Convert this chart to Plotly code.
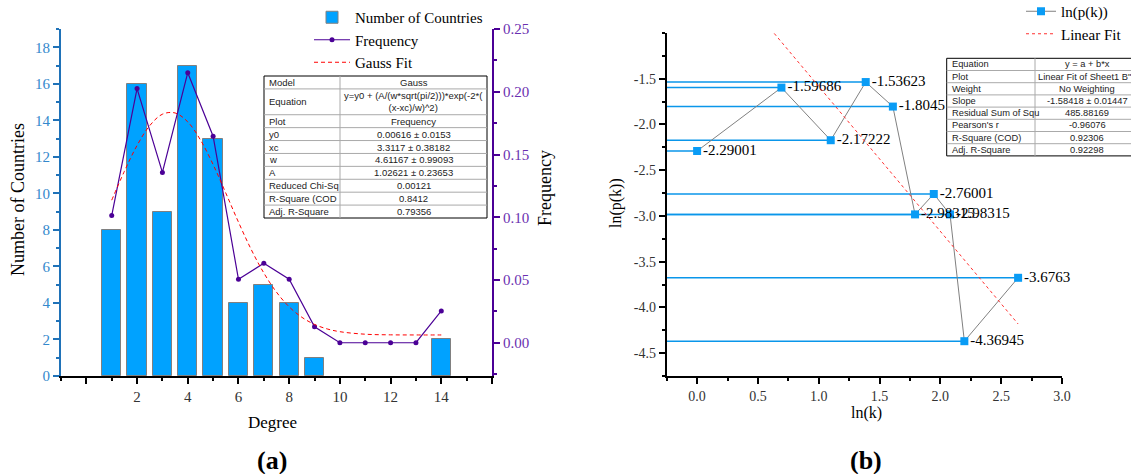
import plotly.graph_objects as go

W, H = 1131, 474
def px(x): return x / W
def py(y): return 1 - y / H

# ---------------- data (a) ----------------
degree = [1, 2, 3, 4, 5, 6, 7, 8, 9, 14]
num_countries = [8, 16, 9, 17, 13, 4, 5, 4, 1, 2]
freq_x = [1, 2, 3, 4, 5, 6, 7, 8, 9, 10, 11, 12, 13, 14]
freq_y = [0.1013, 0.2025, 0.1357, 0.2152, 0.1646, 0.0506, 0.0633, 0.0506, 0.0127,
          0.0, 0.0, 0.0, 0.0, 0.0253]
gauss_x = [1, 1.5, 2, 2.5, 3, 3.5, 4, 4.5, 5, 5.5, 6, 6.5, 7, 7.5, 8, 8.5, 9, 9.5,
           10, 11, 12, 13, 14]
gauss_y = [0.1136, 0.1366, 0.1572, 0.1730, 0.1821, 0.1831, 0.1760, 0.1616, 0.1420,
           0.1193, 0.0961, 0.0744, 0.0556, 0.0403, 0.0286, 0.0203, 0.0146, 0.0110,
           0.0088, 0.0068, 0.0063, 0.0062, 0.0062]
left_x_ticks = [0, 2, 4, 6, 8, 10, 12, 14, 16]
left_x_ticktext = ["", "2", "4", "6", "8", "10", "12", "14", ""]
left_y_ticks = [0, 2, 4, 6, 8, 10, 12, 14, 16, 18]
freq_ticks = [0.0, 0.05, 0.10, 0.15, 0.20, 0.25]

tbl_a_labels = ["Model", "Equation", "Plot", "y0", "xc", "w", "A",
                "Reduced Chi-Sq", "R-Square (COD", "Adj. R-Square"]
tbl_a_values = ["Gauss", "y=y0 + (A/(w*sqrt(pi/2)))*exp(-2*(<br>(x-xc)/w)^2)",
                "Frequency", "0.00616 ± 0.0153", "3.3117 ± 0.38182",
                "4.61167 ± 0.99093", "1.02621 ± 0.23653", "0.00121", "0.8412",
                "0.79356"]
tbl_a_rowunits = [1, 2, 1, 1, 1, 1, 1, 1, 1, 1]

# ---------------- data (b) ----------------
ln_k = [0.0, 0.69315, 1.09861, 1.38629, 1.60944, 1.79176, 1.94591, 2.07944,
        2.19722, 2.63906]
ln_pk = [-2.29001, -1.59686, -2.17222, -1.53623, -1.8045, -2.98315, -2.76001,
         -2.98315, -4.36945, -3.6763]
fit_x = [0.0, 2.639]
fit_y = [0.0, -4.181]
right_x_ticks = [0.0, 0.5, 1.0, 1.5, 2.0, 2.5, 3.0]
right_y_ticks = [-1.5, -2.0, -2.5, -3.0, -3.5, -4.0, -4.5]

tbl_b_labels = ["Equation", "Plot", "Weight", "Slope", "Residual Sum of Squ",
                "Pearson's r", "R-Square (COD)", "Adj. R-Square"]
tbl_b_values = ["y = a + b*x", 'Linear Fit of Sheet1 B"ln(p(k))"', "No Weighting",
                "-1.58418 ± 0.01447", "485.88169", "-0.96076", "0.92306", "0.92298"]

SERIF = "Liberation Serif"
SANS = "Liberation Sans"
BLUE_AX = "#1f72b8"
PURPLE = "#4b0096"
BAR = "#00a2ff"

fig = go.Figure()

fig.add_trace(go.Bar(x=degree, y=num_countries, width=0.76, name="Number of Countries",
                     marker=dict(color=BAR, line=dict(color="#808080", width=1)),
                     xaxis="x", yaxis="y", legend="legend"))
fig.add_trace(go.Scatter(x=freq_x, y=freq_y, mode="lines+markers", name="Frequency",
                         line=dict(color=PURPLE, width=1.2),
                         marker=dict(color=PURPLE, size=5),
                         xaxis="x", yaxis="y2", legend="legend"))
fig.add_trace(go.Scatter(x=gauss_x, y=gauss_y, mode="lines", name="Gauss Fit",
                         line=dict(color="#ff0000", width=1, dash="4px,3px",
                                   shape="spline"),
                         xaxis="x", yaxis="y2", legend="legend"))

x2min = -0.25
fig.add_trace(go.Scatter(x=ln_k, y=ln_pk, mode="lines+markers+text", name="ln(p(k))",
                         text=[str(v) for v in ln_pk], textposition="middle right",
                         textfont=dict(family=SERIF, size=15, color="black"),
                         line=dict(color="#808080", width=1),
                         marker=dict(symbol="square", size=8, color="#0a9cf5"),
                         error_x=dict(type="data", symmetric=False,
                                      array=[0] * len(ln_k),
                                      arrayminus=[v - x2min for v in ln_k],
                                      color="#0a96ea", thickness=1.5, width=0),
                         cliponaxis=False,
                         xaxis="x2", yaxis="y3", legend="legend2"))
fig.add_trace(go.Scatter(x=fit_x, y=fit_y, mode="lines", name="Linear Fit",
                         line=dict(color="#ff3030", width=1, dash="dot"),
                         xaxis="x2", yaxis="y3", legend="legend2"))

axis_common = dict(showgrid=False, zeroline=False, showline=True, linewidth=2,
                   ticks="outside", ticklen=6, tickwidth=2, automargin=False)

fig.update_layout(
    width=W, height=H, margin=dict(l=0, r=0, t=0, b=0, autoexpand=False),
    paper_bgcolor="white", plot_bgcolor="white",
    font=dict(family=SERIF, size=15, color="black"),
    xaxis=dict(domain=[px(61), px(492)], range=[-1, 16], anchor="y",
               tickvals=left_x_ticks, ticktext=left_x_ticktext,
               linecolor="black", tickcolor="black",
               tickfont=dict(family=SERIF, size=15, color="#333"),
               minor=dict(ticks="outside", ticklen=3, tickwidth=1.5, dtick=1, tick0=0,
                          tickcolor="black"),
               **axis_common),
    yaxis=dict(domain=[py(376), py(29)], range=[0, 19], anchor="x",
               tickvals=left_y_ticks, linecolor=BLUE_AX, tickcolor=BLUE_AX,
               tickfont=dict(family=SERIF, size=15, color="#3388cc"),
               minor=dict(ticks="outside", ticklen=3, tickwidth=1.5, dtick=1, tick0=0,
                          tickcolor=BLUE_AX),
               **axis_common),
    yaxis2=dict(overlaying="y", side="right", anchor="x", range=[-0.0265, 0.25],
                tickvals=freq_ticks, tickformat=".2f", linecolor=PURPLE, tickcolor=PURPLE,
                tickfont=dict(family=SERIF, size=15, color="#6a2fb0"),
                minor=dict(ticks="outside", ticklen=3, tickwidth=1.5, dtick=0.025,
                           tick0=0, tickcolor=PURPLE),
                **axis_common),
    xaxis2=dict(domain=[px(666.7), px(1062)], range=[x2min, 3.0], anchor="y3",
                tickvals=right_x_ticks, tickformat=".1f", linecolor="black",
                tickcolor="black", tickfont=dict(family=SERIF, size=14, color="#333"),
                minor=dict(ticks="outside", ticklen=3, tickwidth=1.5, dtick=0.25,
                           tick0=0, tickcolor="black"),
                **axis_common),
    yaxis3=dict(domain=[py(376), py(33)], range=[-4.75, -1.0], anchor="x2",
                tickvals=right_y_ticks, ticktext=[f"{v:.1f}" for v in right_y_ticks],
                linecolor="black", tickcolor="black",
                tickfont=dict(family=SERIF, size=14, color="#333"),
                minor=dict(ticks="outside", ticklen=3, tickwidth=1.5, dtick=0.25,
                           tick0=0, tickcolor="black"),
                **axis_common),
    legend=dict(x=px(309), y=py(1), xanchor="left", yanchor="top",
                bgcolor="rgba(0,0,0,0)", font=dict(family=SERIF, size=15),
                tracegroupgap=0, itemwidth=36),
    legend2=dict(x=px(1021), y=py(-5), xanchor="left", yanchor="top",
                 bgcolor="rgba(0,0,0,0)", font=dict(family=SERIF, size=15),
                 tracegroupgap=0, itemwidth=30),
    bargap=0,
)

shapes = []
annotations = []

# ---- table (a) ----
ta_l, ta_d, ta_r, ta_t, ta_b = 264, 340, 487, 76, 218
unit = (ta_b - ta_t) / sum(tbl_a_rowunits)
yc = ta_t
shapes.append(dict(type="rect", xref="paper", yref="paper", x0=px(ta_l), x1=px(ta_r),
                   y0=py(ta_b), y1=py(ta_t), fillcolor="white",
                   line=dict(color="black", width=1), layer="above"))
for i, (lab, val, u) in enumerate(zip(tbl_a_labels, tbl_a_values, tbl_a_rowunits)):
    y0 = yc
    y1 = yc + u * unit
    mid = (y0 + y1) / 2
    annotations.append(dict(text=lab, x=px(ta_l + 3), y=py(mid), xref="paper",
                            yref="paper", xanchor="left", yanchor="middle",
                            showarrow=False, font=dict(family=SANS, size=9.5, color="#222")))
    annotations.append(dict(text=val, x=px((ta_d + ta_r) / 2), y=py(mid), xref="paper",
                            yref="paper", xanchor="center", yanchor="middle",
                            showarrow=False,
                            font=dict(family=SANS, size=9.5, color="#222")))
    if i > 0:
        shapes.append(dict(type="line", xref="paper", yref="paper", x0=px(ta_l),
                           x1=px(ta_r), y0=py(y0), y1=py(y0),
                           line=dict(color="#aaaaaa", width=1), layer="above"))
    yc = y1
shapes.append(dict(type="line", xref="paper", yref="paper", x0=px(ta_d), x1=px(ta_d),
                   y0=py(ta_b), y1=py(ta_t), line=dict(color="#aaaaaa", width=1),
                   layer="above"))

# ---- table (b) ----
tb_l, tb_d, tb_r, tb_t, tb_h = 946.7, 1035, 1160, 58.3, 12.2
tb_b = tb_t + tb_h * len(tbl_b_labels)
shapes.append(dict(type="rect", xref="paper", yref="paper", x0=px(tb_l), x1=px(tb_r),
                   y0=py(tb_b), y1=py(tb_t), fillcolor="white",
                   line=dict(color="black", width=1), layer="above"))
for i, (lab, val) in enumerate(zip(tbl_b_labels, tbl_b_values)):
    y0 = tb_t + i * tb_h
    mid = y0 + tb_h / 2
    annotations.append(dict(text=lab, x=px(tb_l + 3), y=py(mid), xref="paper",
                            yref="paper", xanchor="left", yanchor="middle",
                            showarrow=False, font=dict(family=SANS, size=9.3, color="#222")))
    if i == 1:
        annotations.append(dict(text=val, x=px(tb_d + 1), y=py(mid), xref="paper",
                                yref="paper", xanchor="left", yanchor="middle",
                                showarrow=False,
                                font=dict(family=SANS, size=9.3, color="#222")))
    else:
        annotations.append(dict(text=val, x=px(1087), y=py(mid), xref="paper",
                                yref="paper", xanchor="center", yanchor="middle",
                                showarrow=False,
                                font=dict(family=SANS, size=9.3, color="#222")))
    if i > 0:
        shapes.append(dict(type="line", xref="paper", yref="paper", x0=px(tb_l),
                           x1=px(tb_r), y0=py(y0), y1=py(y0),
                           line=dict(color="#aaaaaa", width=1), layer="above"))
shapes.append(dict(type="line", xref="paper", yref="paper", x0=px(tb_d), x1=px(tb_d),
                   y0=py(tb_b), y1=py(tb_t), line=dict(color="#aaaaaa", width=1),
                   layer="above"))

# ---- titles ----
def title(text, x, y, size, angle=0, bold=False):
    annotations.append(dict(text=f"<b>{text}</b>" if bold else text, x=px(x), y=py(y),
                            xref="paper", yref="paper", xanchor="center",
                            yanchor="middle", showarrow=False, textangle=angle,
                            font=dict(family=SERIF, size=size, color="black")))

title("Number of Countries", 18, 200, 18, -90)
title("Frequency", 545, 188, 18, -90)
title("Degree", 272, 422, 17)
title("(a)", 272, 460, 26, bold=True)
title("ln(p(k))", 616, 203, 16, -90)
title("ln(k)", 866, 413, 16)
title("(b)", 866, 460, 26, bold=True)

fig.update_layout(shapes=shapes, annotations=annotations)
fig.write_html("out.html")
